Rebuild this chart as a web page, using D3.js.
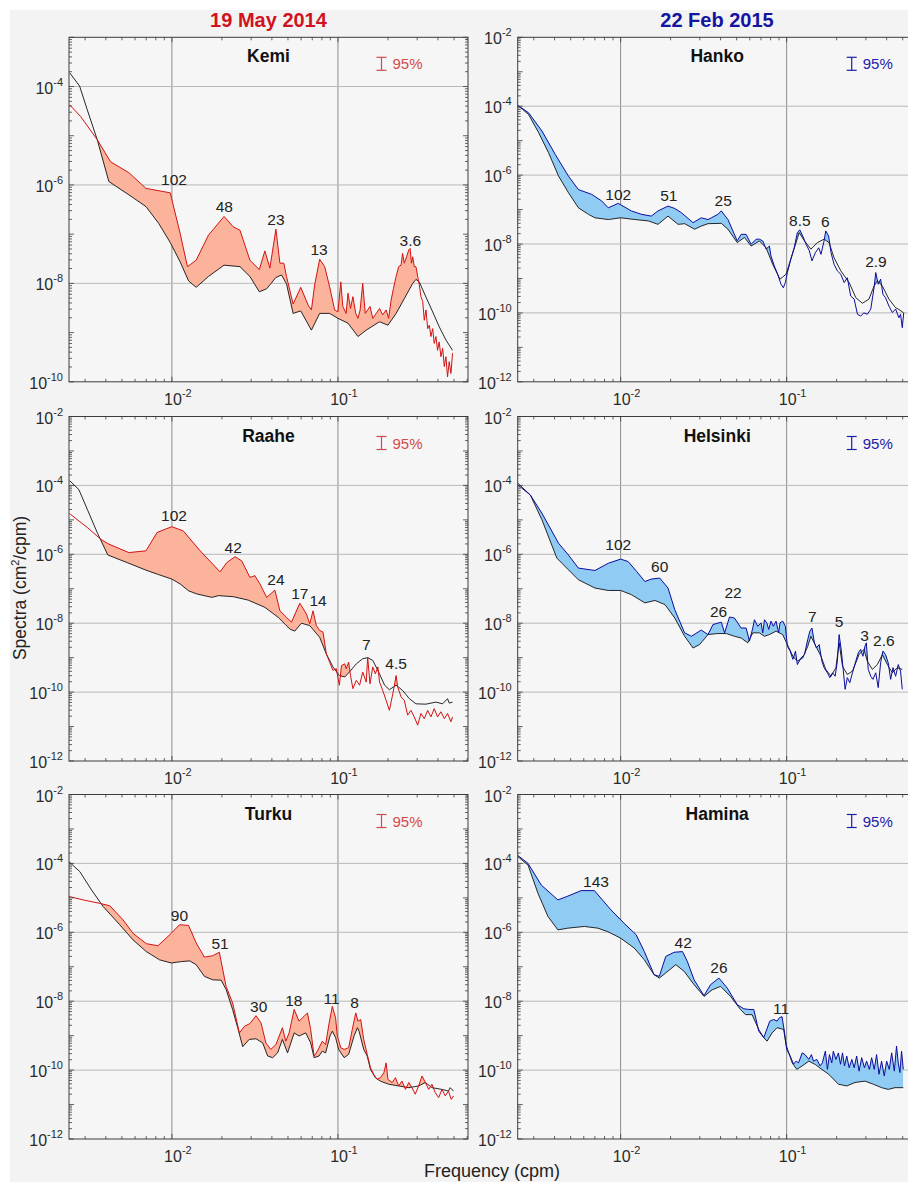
<!DOCTYPE html>
<html>
<head>
<meta charset="utf-8">
<script src="https://cdn.jsdelivr.net/npm/d3@7"></script>
<style>
  body { margin: 0; background: #fff; }
  svg { display: block; font-family: "Liberation Sans", Arial, sans-serif; }
</style>
</head>
<body>
<svg id="fig" width="908" height="1182"></svg>
<script>
// frequencies in cpm, spectra stored as log10 of cm^2/cpm
const freqDomain = [0.0024, 0.607];
const xTickExps = [-2, -1];
const yTickExps = [-2, -4, -6, -8, -10, -12];
const kemiTickExps = [-4, -6, -8, -10];

// ---- Kemi, 19 May 2014
const kemiF = [0.00242, 0.00282, 0.00355, 0.00427, 0.0055, 0.00698, 0.00977, 0.0112, 0.0124, 0.014,
  0.0166, 0.0206, 0.0234, 0.0257, 0.0295, 0.0336, 0.0363, 0.0389, 0.0423, 0.0447,
  0.0472, 0.049, 0.0537, 0.0597, 0.0661, 0.0692, 0.0724, 0.0776, 0.0832, 0.0891,
  0.0955, 0.1, 0.104, 0.107, 0.112, 0.115, 0.119, 0.123, 0.128, 0.132,
  0.136, 0.141, 0.146, 0.151, 0.156, 0.162, 0.17, 0.178, 0.186, 0.195,
  0.202, 0.209, 0.216, 0.224, 0.232, 0.24, 0.245, 0.251, 0.259, 0.267,
  0.272, 0.277, 0.282, 0.288, 0.295, 0.302, 0.309, 0.316, 0.324, 0.331,
  0.339, 0.347, 0.355, 0.363, 0.372, 0.38, 0.389, 0.398, 0.407, 0.417,
  0.427, 0.437, 0.447, 0.457, 0.468, 0.479, 0.49];
const kemiLogS = [-4.37, -4.61, -5.08, -5.53, -5.75, -6.07, -6.16, -6.98, -7.66, -7.53,
  -7.02, -6.64, -6.85, -6.92, -7.53, -7.72, -7.34, -7.69, -6.90, -7.59,
  -7.59, -7.86, -8.42, -8.08, -8.44, -8.54, -8.03, -7.51, -7.66, -8.07,
  -8.54, -8.58, -7.97, -8.47, -8.61, -8.2, -8.51, -8.27, -8.61, -8.71,
  -8.54, -8.0, -8.61, -8.54, -8.47, -8.71, -8.61, -8.51, -8.64, -8.54,
  -8.71, -8.34, -8.1, -7.86, -7.66, -7.63, -7.39, -7.59, -7.46, -7.32,
  -7.29, -7.59, -7.46, -7.66, -7.66, -7.86, -8.03, -8.27, -8.37, -8.75,
  -8.54, -8.92, -8.85, -9.08, -8.92, -9.22, -9.08, -9.36, -9.19, -9.49,
  -9.32, -9.69, -9.49, -9.9, -9.59, -9.83, -9.42];
const kemiBgF = [0.00242, 0.00278, 0.00309, 0.00355, 0.00417, 0.0055, 0.00698, 0.00832, 0.00977, 0.0112,
  0.0126, 0.014, 0.0166, 0.0206, 0.0257, 0.0295, 0.0336, 0.0372, 0.0423, 0.0457,
  0.049, 0.0537, 0.0597, 0.0692, 0.0776, 0.0891, 0.1, 0.115, 0.132, 0.148,
  0.178, 0.2, 0.224, 0.251, 0.282, 0.295, 0.309, 0.339, 0.372, 0.407,
  0.447, 0.49];
const kemiBgLogS = [-3.72, -3.99, -4.47, -5.08, -5.93, -6.2, -6.44, -6.78, -7.17, -7.56,
  -7.95, -8.08, -7.86, -7.63, -7.66, -7.86, -8.17, -8.11, -7.88, -7.83,
  -8.01, -8.61, -8.56, -8.95, -8.61, -8.61, -8.71, -8.81, -9.08, -8.95,
  -8.78, -8.85, -8.61, -8.31, -8.0, -7.92, -7.97, -8.28, -8.58, -8.88,
  -9.15, -9.36];
const kemiPeaks = [['102', 0.0103, -6.0], ['48', 0.0207, -6.54], ['23', 0.0423, -6.81],
  ['13', 0.0769, -7.42], ['3.6', 0.273, -7.24]];

// ---- Raahe, 19 May 2014
const raaheF = [0.00242, 0.00309, 0.00372, 0.00411, 0.0055, 0.00698, 0.00813, 0.00912, 0.01, 0.0117,
  0.0148, 0.0195, 0.0214, 0.024, 0.0263, 0.0295, 0.0316, 0.0339, 0.0372, 0.0417,
  0.0447, 0.049, 0.0525, 0.0589, 0.0646, 0.0676, 0.0708, 0.0741, 0.0776, 0.0813,
  0.0851, 0.0891, 0.0933, 0.0977, 0.102, 0.105, 0.11, 0.112, 0.116, 0.119,
  0.123, 0.129, 0.135, 0.141, 0.148, 0.151, 0.156, 0.162, 0.168, 0.174,
  0.178, 0.186, 0.195, 0.204, 0.214, 0.224, 0.229, 0.24, 0.251, 0.263,
  0.275, 0.288, 0.302, 0.316, 0.331, 0.347, 0.363, 0.38, 0.398, 0.417,
  0.437, 0.457, 0.479, 0.49];
const raaheLogS = [-4.82, -5.22, -5.56, -5.69, -5.95, -5.9, -5.37, -5.27, -5.2, -5.32,
  -5.9, -6.51, -6.24, -6.07, -6.19, -6.67, -6.62, -6.86, -7.25, -7.04,
  -7.64, -7.83, -7.97, -7.42, -7.73, -8.02, -7.64, -8.07, -8.21, -8.26,
  -8.89, -9.13, -9.37, -9.32, -9.8, -9.23, -9.18, -9.32, -9.13, -9.52,
  -9.9, -9.66, -9.8, -9.42, -9.71, -8.99, -9.76, -9.27, -9.47, -9.27,
  -9.71, -9.95, -10.24, -10.53, -10.05, -9.52, -9.85, -10.14, -10.24, -10.67,
  -10.53, -10.72, -10.96, -10.62, -10.77, -10.53, -10.72, -10.48, -10.72, -10.57,
  -10.77, -10.62, -10.86, -10.72];
const raaheBgF = [0.00242, 0.00275, 0.00309, 0.00355, 0.00411, 0.00537, 0.00698, 0.00832, 0.01, 0.0112,
  0.0126, 0.0141, 0.0174, 0.0191, 0.0234, 0.0288, 0.0363, 0.0437, 0.0513, 0.055,
  0.0603, 0.0676, 0.0776, 0.0851, 0.0933, 0.102, 0.11, 0.117, 0.129, 0.141,
  0.151, 0.162, 0.174, 0.191, 0.204, 0.224, 0.245, 0.269, 0.295, 0.339,
  0.389, 0.427, 0.457, 0.468, 0.49];
const raaheBgLogS = [-3.86, -4.12, -4.69, -5.37, -6.02, -6.24, -6.46, -6.59, -6.72, -6.86,
  -7.06, -7.15, -7.25, -7.2, -7.23, -7.33, -7.54, -7.83, -8.17, -8.23,
  -8.0, -8.07, -8.41, -8.89, -9.27, -9.52, -9.56, -9.42, -9.18, -9.03,
  -9.0, -9.08, -9.37, -9.8, -9.93, -9.8, -9.95, -10.19, -10.34, -10.35,
  -10.29, -10.34, -10.19, -10.32, -10.29];
const raahePeaks = [['102', 0.0103, -5.03], ['42', 0.0234, -5.95], ['24', 0.0423, -6.88],
  ['17', 0.0589, -7.3], ['14', 0.0759, -7.51], ['7', 0.148, -8.79], ['4.5', 0.224, -9.32]];

// ---- Turku, 19 May 2014
const turkuF = [0.0024, 0.00292, 0.00368, 0.00423, 0.00508, 0.00583, 0.00701, 0.00824, 0.00991, 0.0111,
  0.0126, 0.014, 0.0157, 0.0176, 0.0193, 0.0212, 0.0232, 0.0255, 0.0273, 0.0295,
  0.0321, 0.0344, 0.0368, 0.0394, 0.0423, 0.0463, 0.0485, 0.0508, 0.0545, 0.0583,
  0.0625, 0.0655, 0.0685, 0.0718, 0.0752, 0.0805, 0.0843, 0.0883, 0.0925, 0.0968,
  0.0991, 0.104, 0.109, 0.116, 0.122, 0.128, 0.132, 0.137, 0.143, 0.15,
  0.157, 0.164, 0.172, 0.18, 0.189, 0.195, 0.2, 0.212, 0.222, 0.232,
  0.243, 0.255, 0.267, 0.279, 0.292, 0.306, 0.321, 0.336, 0.352, 0.368,
  0.385, 0.404, 0.423, 0.443, 0.463, 0.481, 0.497];
const turkuLogS = [-4.96, -5.06, -5.16, -5.23, -5.64, -6.03, -6.33, -6.39, -6.03, -5.78,
  -5.8, -6.31, -6.72, -6.68, -6.58, -7.57, -8.05, -8.92, -8.73, -8.65,
  -8.42, -8.63, -9.21, -9.4, -9.26, -8.77, -9.16, -8.92, -8.24, -8.58,
  -8.44, -8.34, -8.82, -9.59, -9.45, -9.16, -9.26, -8.66, -8.15, -8.49,
  -9.01, -9.35, -9.4, -9.35, -8.82, -8.34, -8.58, -8.53, -9.11, -9.54,
  -9.93, -10.12, -10.27, -10.22, -10.08, -9.79, -10.27, -10.36, -10.22, -10.46,
  -10.32, -10.56, -10.36, -10.51, -10.7, -10.46, -10.17, -10.36, -10.56, -10.41,
  -10.65, -10.8, -10.56, -10.75, -10.61, -10.85, -10.75];
const turkuBgF = [0.0024, 0.00279, 0.00328, 0.00385, 0.00485, 0.00583, 0.00701, 0.00843, 0.00991, 0.0114,
  0.0128, 0.014, 0.0157, 0.0176, 0.0198, 0.0212, 0.0232, 0.0249, 0.0267, 0.0292,
  0.0321, 0.0352, 0.0377, 0.0404, 0.0433, 0.0463, 0.0497, 0.0545, 0.0583, 0.064,
  0.0685, 0.0718, 0.0769, 0.0805, 0.0843, 0.0895, 0.0925, 0.0968, 0.101, 0.109,
  0.116, 0.125, 0.131, 0.134, 0.143, 0.15, 0.157, 0.168, 0.18, 0.202,
  0.232, 0.267, 0.306, 0.336, 0.368, 0.423, 0.463, 0.474, 0.497];
const turkuBgLogS = [-3.95, -4.24, -4.77, -5.25, -5.78, -6.22, -6.56, -6.8, -6.89, -6.85,
  -6.83, -6.94, -7.28, -7.38, -7.39, -7.66, -8.24, -8.77, -9.32, -9.11,
  -9.09, -9.21, -9.59, -9.64, -9.5, -9.11, -9.5, -8.92, -9.01, -8.92,
  -9.21, -9.64, -9.59, -9.45, -9.5, -9.01, -8.87, -9.06, -9.4, -9.64,
  -9.54, -9.01, -8.77, -8.87, -9.4, -9.59, -9.98, -10.22, -10.32, -10.41,
  -10.46, -10.51, -10.46, -10.36, -10.51, -10.56, -10.61, -10.51, -10.61];
const turkuPeaks = [['90', 0.0111, -5.66], ['51', 0.0195, -6.49], ['30', 0.0333, -8.32],
  ['18', 0.0542, -8.15], ['11', 0.0916, -8.07], ['8', 0.126, -8.21]];

// ---- Hanko, 22 Feb 2015
const hankoF = [0.00241, 0.00279, 0.00336, 0.00404, 0.00485, 0.00557, 0.0067, 0.00769, 0.00843, 0.00968,
  0.0116, 0.0134, 0.0153, 0.0168, 0.0193, 0.0212, 0.0232, 0.0273, 0.0306, 0.0336,
  0.0352, 0.0385, 0.0404, 0.0443, 0.0504, 0.0532, 0.057, 0.0611, 0.0655, 0.0685,
  0.0718, 0.0752, 0.0787, 0.0805, 0.0843, 0.0883, 0.0925, 0.0955, 0.0982, 0.101,
  0.106, 0.111, 0.116, 0.12, 0.125, 0.131, 0.137, 0.142, 0.149, 0.156,
  0.161, 0.168, 0.172, 0.179, 0.185, 0.193, 0.202, 0.212, 0.222, 0.232,
  0.243, 0.255, 0.267, 0.279, 0.292, 0.306, 0.321, 0.336, 0.344, 0.356,
  0.368, 0.38, 0.394, 0.413, 0.433, 0.453, 0.474, 0.485, 0.497, 0.507];
const hankoLogS = [-3.98, -4.19, -4.72, -5.4, -6.03, -6.42, -6.56, -6.75, -6.95, -6.82,
  -7.04, -7.14, -7.19, -7.04, -6.9, -6.97, -7.09, -7.38, -7.24, -7.29,
  -7.24, -7.14, -7.04, -7.29, -7.91, -7.72, -7.72, -8.01, -7.86, -7.86,
  -7.91, -8.15, -8.06, -8.35, -8.64, -8.88, -9.17, -9.27, -9.12, -8.83,
  -8.44, -8.11, -7.67, -7.59, -7.77, -8.01, -8.2, -8.49, -8.25, -8.11,
  -8.3, -7.91, -7.62, -7.77, -8.25, -8.59, -8.78, -8.88, -9.12, -8.98,
  -9.51, -9.6, -10.04, -10.09, -10.0, -10.04, -9.89, -9.27, -8.83, -9.17,
  -9.02, -9.46, -9.56, -9.8, -9.99, -9.89, -10.14, -10.04, -10.43, -9.99];
const hankoBgF = [0.00241, 0.00279, 0.00321, 0.00368, 0.00423, 0.00485, 0.00557, 0.0064, 0.00701, 0.00843,
  0.01, 0.0122, 0.0147, 0.0168, 0.0193, 0.0222, 0.0243, 0.0279, 0.0306, 0.0336,
  0.0404, 0.0443, 0.0504, 0.0557, 0.0611, 0.0685, 0.0752, 0.0824, 0.0912, 0.0991,
  0.109, 0.119, 0.128, 0.14, 0.153, 0.168, 0.18, 0.193, 0.212, 0.238,
  0.261, 0.286, 0.313, 0.336, 0.352, 0.377, 0.413, 0.453, 0.474, 0.504];
const hankoBgLogS = [-3.98, -4.24, -4.77, -5.35, -6.03, -6.51, -6.95, -7.14, -7.24, -7.29,
  -7.24, -7.29, -7.33, -7.43, -7.19, -7.43, -7.41, -7.57, -7.48, -7.41,
  -7.40, -7.57, -7.96, -7.81, -8.06, -7.91, -8.11, -8.59, -9.02, -8.88,
  -8.25, -7.67, -7.91, -8.15, -7.96, -7.86, -7.96, -8.4, -8.78, -9.12,
  -9.56, -9.72, -9.6, -9.22, -9.07, -9.22, -9.6, -9.85, -9.9, -9.99];
const hankoPeaks = [['102', 0.00968, -6.71], ['51', 0.0195, -6.75], ['25', 0.0415, -6.9],
  ['8.5', 0.12, -7.48], ['6', 0.171, -7.51], ['2.9', 0.345, -8.66]];

// ---- Helsinki, 22 Feb 2015
const helsinkiF = [0.00241, 0.00286, 0.00336, 0.00423, 0.00485, 0.00557, 0.00701, 0.00843, 0.01, 0.0111,
  0.0125, 0.014, 0.0153, 0.0172, 0.0193, 0.0212, 0.0243, 0.0267, 0.0306, 0.0336,
  0.036, 0.0404, 0.0423, 0.0453, 0.0485, 0.0532, 0.057, 0.0597, 0.0625, 0.064,
  0.067, 0.0701, 0.0718, 0.0735, 0.0759, 0.078, 0.0805, 0.0832, 0.0863, 0.0895,
  0.0912, 0.0946, 0.0982, 0.101, 0.105, 0.109, 0.113, 0.116, 0.122, 0.128,
  0.134, 0.138, 0.142, 0.147, 0.151, 0.157, 0.163, 0.168, 0.176, 0.182,
  0.189, 0.196, 0.202, 0.207, 0.213, 0.219, 0.225, 0.232, 0.24, 0.249,
  0.261, 0.27, 0.279, 0.288, 0.296, 0.302, 0.31, 0.321, 0.331, 0.344,
  0.356, 0.368, 0.38, 0.394, 0.409, 0.423, 0.437, 0.453, 0.47, 0.485,
  0.497];
const helsinkiLogS = [-3.99, -4.28, -4.81, -5.68, -6.02, -6.4, -6.47, -6.26, -6.14, -6.21,
  -6.5, -6.79, -6.72, -6.69, -6.98, -7.61, -8.28, -8.38, -8.2, -8.33,
  -8.04, -7.97, -8.28, -7.82, -7.85, -8.14, -8.14, -8.52, -8.14, -7.9,
  -8.09, -7.99, -8.28, -7.9, -7.99, -8.18, -7.94, -8.09, -7.94, -8.28,
  -7.99, -7.94, -8.09, -8.67, -8.81, -9.05, -8.81, -9.2, -9.01, -8.91,
  -8.47, -8.23, -8.14, -8.57, -8.72, -8.62, -9.1, -9.29, -9.44, -9.58,
  -9.44, -9.54, -9.1, -8.33, -8.76, -9.34, -9.92, -9.58, -9.73, -9.44,
  -9.1, -8.86, -8.76, -8.96, -8.67, -8.57, -9.34, -9.54, -9.63, -9.44,
  -9.87, -9.15, -8.81, -8.91, -9.15, -9.63, -9.29, -9.54, -9.2, -9.39,
  -9.92];
const helsinkiBgF = [0.00241, 0.00286, 0.00336, 0.00413, 0.00485, 0.00557, 0.00701, 0.00843, 0.01, 0.0116,
  0.014, 0.0161, 0.0185, 0.0212, 0.0243, 0.0273, 0.0299, 0.0336, 0.0385, 0.0433,
  0.0485, 0.0532, 0.0583, 0.0625, 0.0685, 0.0735, 0.0787, 0.0863, 0.0946, 0.101,
  0.109, 0.116, 0.125, 0.134, 0.14, 0.15, 0.161, 0.172, 0.185, 0.198,
  0.207, 0.217, 0.232, 0.249, 0.273, 0.292, 0.306, 0.328, 0.352, 0.377,
  0.404, 0.433, 0.463, 0.497];
const helsinkiBgLogS = [-3.94, -4.28, -5.0, -6.11, -6.45, -6.74, -6.98, -7.05, -7.05, -7.17,
  -7.41, -7.34, -7.46, -7.85, -8.38, -8.72, -8.62, -8.33, -8.3, -8.3,
  -8.38, -8.43, -8.57, -8.28, -8.28, -8.38, -8.33, -8.23, -8.33, -8.62,
  -8.96, -9.1, -9.01, -8.67, -8.38, -8.67, -8.96, -9.34, -9.54, -9.29,
  -8.57, -9.25, -9.49, -9.39, -8.91, -8.76, -9.1, -9.34, -9.2, -8.91,
  -9.2, -9.44, -9.29, -9.34];
const helsinkiPeaks = [['102', 0.00968, -5.87], ['60', 0.0172, -6.52], ['26', 0.0389, -7.83],
  ['22', 0.0476, -7.27], ['7', 0.143, -7.96], ['5', 0.207, -8.11], ['3', 0.295, -8.52],
  ['2.6', 0.385, -8.67]];

// ---- Hamina, 22 Feb 2015
const haminaF = [0.00239, 0.00277, 0.00333, 0.00419, 0.00481, 0.00578, 0.00695, 0.00875, 0.0105, 0.0124,
  0.0139, 0.0159, 0.0171, 0.0187, 0.021, 0.0236, 0.0252, 0.0277, 0.0318, 0.0348,
  0.0391, 0.0439, 0.0504, 0.0552, 0.0592, 0.0634, 0.0679, 0.0728, 0.0791, 0.0836,
  0.0875, 0.0904, 0.0938, 0.0972, 0.1, 0.105, 0.11, 0.114, 0.118, 0.124,
  0.129, 0.136, 0.141, 0.145, 0.152, 0.159, 0.164, 0.171, 0.176, 0.181,
  0.187, 0.191, 0.198, 0.205, 0.211, 0.217, 0.223, 0.23, 0.238, 0.247,
  0.255, 0.264, 0.273, 0.283, 0.294, 0.303, 0.315, 0.325, 0.337, 0.348,
  0.36, 0.373, 0.387, 0.4, 0.415, 0.429, 0.445, 0.459, 0.47, 0.481,
  0.492, 0.504];
const haminaLogS = [-3.76, -4.0, -4.63, -5.06, -4.95, -4.79, -4.79, -5.35, -5.74, -6.07,
  -6.56, -7.23, -7.28, -6.7, -6.58, -6.56, -6.84, -7.38, -7.84, -7.52,
  -7.33, -7.62, -8.1, -8.22, -8.24, -8.24, -8.87, -9.06, -8.58, -8.53,
  -8.58, -8.48, -8.45, -8.92, -9.4, -9.59, -9.83, -9.74, -9.79, -9.5,
  -9.55, -9.69, -9.55, -9.74, -9.69, -9.88, -9.79, -9.45, -9.98, -9.55,
  -9.79, -9.45, -9.69, -9.5, -9.83, -9.5, -9.88, -9.59, -9.93, -9.69,
  -9.93, -9.59, -10.03, -9.64, -9.93, -9.74, -9.98, -9.64, -9.98, -9.55,
  -10.12, -9.74, -10.17, -9.74, -9.98, -9.5, -10.03, -9.3, -9.79, -10.07,
  -9.45, -9.98];
const haminaBgF = [0.00239, 0.00277, 0.00318, 0.00365, 0.00419, 0.00481, 0.00605, 0.00728, 0.00836, 0.01,
  0.0121, 0.0139, 0.0159, 0.0171, 0.0187, 0.0215, 0.0241, 0.0277, 0.0318, 0.0356,
  0.04, 0.0459, 0.0527, 0.0565, 0.0619, 0.0679, 0.0728, 0.0762, 0.0817, 0.0875,
  0.0959, 0.0991, 0.103, 0.108, 0.115, 0.124, 0.136, 0.149, 0.163, 0.179,
  0.205, 0.23, 0.258, 0.296, 0.333, 0.373, 0.409, 0.449, 0.504];
const haminaBgLogS = [-3.79, -4.05, -4.87, -5.54, -5.93, -5.88, -5.83, -5.88, -5.98, -6.17,
  -6.46, -6.8, -7.23, -7.33, -7.18, -6.94, -7.13, -7.52, -7.86, -7.67,
  -7.57, -7.86, -8.24, -8.39, -8.39, -8.82, -9.06, -9.16, -8.92, -8.77,
  -8.82, -9.26, -9.5, -9.79, -9.98, -9.88, -9.74, -9.84, -9.98, -10.12,
  -10.41, -10.46, -10.36, -10.32, -10.41, -10.51, -10.56, -10.51, -10.51];
const haminaPeaks = [['143', 0.00711, -4.68], ['42', 0.0238, -6.46], ['26', 0.0391, -7.18],
  ['11', 0.0925, -8.36]];

const redStyle = { line: '#d31212', fill: '#fbb39b', bar: '#d44a4a', legendX: 312.5 };
const blueStyle = { line: '#0c0c9c', fill: '#8fcbf3', bar: '#1d20a8', legendX: 334 };

class SpectrumPanel {
  constructor(_config, _data) {
    this.config = {
      parentElement: _config.parentElement,
      id: _config.id,
      left: _config.left,
      top: _config.top,
      width: _config.width || 399,
      height: _config.height || 344.5,
      yDomain: _config.yDomain || [1e-12, 1e-2],
      yLabels: _config.yLabels || yTickExps,
      style: _config.style
    };
    this.data = _data;
    this.initVis();
  }

  initVis() {
    let vis = this;
    const c = vis.config;

    vis.chart = d3.select(c.parentElement).append('g')
      .attr('transform', `translate(${c.left},${c.top})`);

    vis.xScale = d3.scaleLog().domain(freqDomain).range([0, c.width]);
    vis.yScale = d3.scaleLog().domain(c.yDomain).range([c.height, 0]);

    vis.defs = vis.chart.append('defs');
    vis.defs.append('clipPath').attr('id', `${c.id}-frame`)
      .append('rect').attr('width', c.width).attr('height', c.height);
    vis.aboveBg = vis.defs.append('clipPath').attr('id', `${c.id}-above`).append('path');

    vis.chart.append('rect')
      .attr('width', c.width).attr('height', c.height)
      .attr('fill', '#f6f6f6');

    vis.gridG = vis.chart.append('g');
    vis.plotG = vis.chart.append('g').attr('clip-path', `url(#${c.id}-frame)`);
    vis.axisG = vis.chart.append('g');

    vis.updateVis();
  }

  updateVis() {
    let vis = this;
    const c = vis.config;

    vis.line = d3.line()
      .x(d => vis.xScale(d[0]))
      .y(d => vis.yScale(10 ** d[1]));

    // region above the background spectrum, used to clip the fill
    vis.areaAbove = d3.area()
      .x(d => vis.xScale(d[0]))
      .y0(0)
      .y1(d => vis.yScale(10 ** d[1]));

    vis.areaBelow = d3.area()
      .x(d => vis.xScale(d[0]))
      .y0(c.height)
      .y1(d => vis.yScale(10 ** d[1]));

    vis.isDecade = v => Math.abs(Math.log10(v) - Math.round(Math.log10(v))) < 1e-6;

    vis.renderVis();
  }

  renderVis() {
    let vis = this;
    const c = vis.config;
    const w = c.width, h = c.height;

    // grid
    vis.gridG.selectAll('.vgrid')
      .data(xTickExps)
      .join('line')
      .attr('class', 'vgrid')
      .attr('x1', d => vis.xScale(10 ** d)).attr('x2', d => vis.xScale(10 ** d))
      .attr('y1', 0).attr('y2', h)
      .attr('stroke', '#8c8c8c').attr('stroke-width', 1);

    vis.gridG.selectAll('.hgrid')
      .data(c.yLabels.filter(e => 10 ** e > c.yDomain[0] * 1.01 && 10 ** e < c.yDomain[1] * 0.99))
      .join('line')
      .attr('class', 'hgrid')
      .attr('x1', 0).attr('x2', w)
      .attr('y1', d => vis.yScale(10 ** d)).attr('y2', d => vis.yScale(10 ** d))
      .attr('stroke', '#b9b9b9').attr('stroke-width', 1);

    // fill between the two spectra where the event spectrum is higher
    vis.aboveBg.attr('d', vis.areaAbove(vis.data.bg));

    vis.plotG.selectAll('.excess')
      .data([vis.data.ev])
      .join('path')
      .attr('class', 'excess')
      .attr('clip-path', `url(#${c.id}-above)`)
      .attr('fill', c.style.fill)
      .attr('d', vis.areaBelow);

    vis.plotG.selectAll('.bg-line')
      .data([vis.data.bg])
      .join('path')
      .attr('class', 'bg-line')
      .attr('fill', 'none')
      .attr('stroke', '#111')
      .attr('stroke-width', 0.9)
      .attr('d', vis.line);

    vis.plotG.selectAll('.ev-line')
      .data([vis.data.ev])
      .join('path')
      .attr('class', 'ev-line')
      .attr('fill', 'none')
      .attr('stroke', c.style.line)
      .attr('stroke-width', 1)
      .attr('stroke-linejoin', 'round')
      .attr('d', vis.line);

    // box and inward ticks
    vis.axisG.append('rect')
      .attr('width', w).attr('height', h)
      .attr('fill', 'none').attr('stroke', '#3c3c3c').attr('stroke-width', 1);

    const xt = vis.xScale.ticks();
    const yt = vis.yScale.ticks(20);
    const tickLen = d => vis.isDecade(d) ? 5 : 3;

    [[h, -1], [0, 1]].forEach(([y0, dir]) => {
      vis.axisG.append('g').selectAll('line')
        .data(xt)
        .join('line')
        .attr('x1', d => vis.xScale(d)).attr('x2', d => vis.xScale(d))
        .attr('y1', y0).attr('y2', d => y0 + dir * tickLen(d))
        .attr('stroke', '#3c3c3c').attr('stroke-width', 0.8);
    });
    [[0, 1], [w, -1]].forEach(([x0, dir]) => {
      vis.axisG.append('g').selectAll('line')
        .data(yt)
        .join('line')
        .attr('y1', d => vis.yScale(d)).attr('y2', d => vis.yScale(d))
        .attr('x1', x0).attr('x2', d => x0 + dir * tickLen(d))
        .attr('stroke', '#3c3c3c').attr('stroke-width', 0.8);
    });

    // tick labels 10^n
    const xl = vis.axisG.append('g').selectAll('text')
      .data(xTickExps)
      .join('text')
      .attr('x', d => vis.xScale(10 ** d) + 6)
      .attr('y', h + 23)
      .attr('text-anchor', 'middle')
      .attr('fill', '#2a2a2a');
    xl.append('tspan').attr('font-size', 16).text('10');
    xl.append('tspan').attr('font-size', 11).attr('dy', -8).text(d => d);

    const yl = vis.axisG.append('g').selectAll('text')
      .data(c.yLabels)
      .join('text')
      .attr('x', -6)
      .attr('y', d => vis.yScale(10 ** d) + 7)
      .attr('text-anchor', 'end')
      .attr('fill', '#2a2a2a');
    yl.append('tspan').attr('font-size', 16).text('10');
    yl.append('tspan').attr('font-size', 11).attr('dy', -8).text(d => d);

    // station name
    vis.axisG.append('text')
      .attr('x', w / 2).attr('y', 25)
      .attr('text-anchor', 'middle')
      .attr('font-size', 17.5).attr('font-weight', 'bold')
      .attr('fill', '#111')
      .text(vis.data.title);

    // 95% confidence marker
    const lg = vis.axisG.append('g')
      .attr('transform', `translate(${c.style.legendX},0)`)
      .attr('stroke', c.style.bar).attr('stroke-width', 1.2);
    lg.append('line').attr('x1', 0).attr('x2', 0).attr('y1', 20).attr('y2', 33);
    lg.append('line').attr('x1', -5).attr('x2', 5).attr('y1', 20).attr('y2', 20);
    lg.append('line').attr('x1', -5).attr('x2', 5).attr('y1', 33).attr('y2', 33);
    vis.axisG.append('text')
      .attr('x', c.style.legendX + 11).attr('y', 32)
      .attr('font-size', 15)
      .attr('fill', c.style.bar)
      .text('95%');

    // peak period labels (minutes)
    vis.axisG.append('g').selectAll('text')
      .data(vis.data.peaks)
      .join('text')
      .attr('x', d => vis.xScale(d[1]))
      .attr('y', d => vis.yScale(10 ** d[2]))
      .attr('text-anchor', 'middle')
      .attr('font-size', 15.5)
      .attr('fill', '#222')
      .text(d => d[0]);
  }
}

const svg = d3.select('#fig');
svg.append('rect').attr('x', 10).attr('y', 10).attr('width', 898).attr('height', 1172).attr('fill', '#f3f3f3');

svg.append('text').attr('x', 268.5).attr('y', 27).attr('text-anchor', 'middle')
  .attr('font-size', 20).attr('font-weight', 'bold').attr('fill', '#d0141f').text('19 May 2014');
svg.append('text').attr('x', 717).attr('y', 27).attr('text-anchor', 'middle')
  .attr('font-size', 20).attr('font-weight', 'bold').attr('fill', '#1414a0').text('22 Feb 2015');

const panels = [
  { id: 'kemi', title: 'Kemi', left: 69, top: 37.3, yDomain: [1e-10, 1e-3], yLabels: kemiTickExps,
    style: redStyle, f: kemiF, s: kemiLogS, bf: kemiBgF, bs: kemiBgLogS, peaks: kemiPeaks },
  { id: 'raahe', title: 'Raahe', left: 69, top: 416.5, style: redStyle,
    f: raaheF, s: raaheLogS, bf: raaheBgF, bs: raaheBgLogS, peaks: raahePeaks },
  { id: 'turku', title: 'Turku', left: 69, top: 794.5, style: redStyle,
    f: turkuF, s: turkuLogS, bf: turkuBgF, bs: turkuBgLogS, peaks: turkuPeaks },
  { id: 'hanko', title: 'Hanko', left: 517.7, top: 37.3, style: blueStyle,
    f: hankoF, s: hankoLogS, bf: hankoBgF, bs: hankoBgLogS, peaks: hankoPeaks },
  { id: 'helsinki', title: 'Helsinki', left: 517.7, top: 416.5, style: blueStyle,
    f: helsinkiF, s: helsinkiLogS, bf: helsinkiBgF, bs: helsinkiBgLogS, peaks: helsinkiPeaks },
  { id: 'hamina', title: 'Hamina', left: 517.7, top: 794.5, style: blueStyle,
    f: haminaF, s: haminaLogS, bf: haminaBgF, bs: haminaBgLogS, peaks: haminaPeaks }
];

panels.forEach(p => {
  new SpectrumPanel(
    { parentElement: '#fig', id: p.id, left: p.left, top: p.top, yDomain: p.yDomain,
      yLabels: p.yLabels, style: p.style },
    { title: p.title, ev: d3.zip(p.f, p.s), bg: d3.zip(p.bf, p.bs), peaks: p.peaks }
  );
});

// shared axis titles
const yTitle = svg.append('text')
  .attr('transform', 'translate(26,588) rotate(-90)')
  .attr('text-anchor', 'middle')
  .attr('font-size', 17.5)
  .attr('fill', '#222');
yTitle.append('tspan').text('Spectra (cm');
yTitle.append('tspan').attr('font-size', 11).attr('dy', -7).text('2');
yTitle.append('tspan').attr('dy', 7).text('/cpm)');

svg.append('text')
  .attr('x', 492).attr('y', 1177)
  .attr('text-anchor', 'middle')
  .attr('font-size', 18)
  .attr('fill', '#222')
  .text('Frequency (cpm)');
</script>
</body>
</html>
